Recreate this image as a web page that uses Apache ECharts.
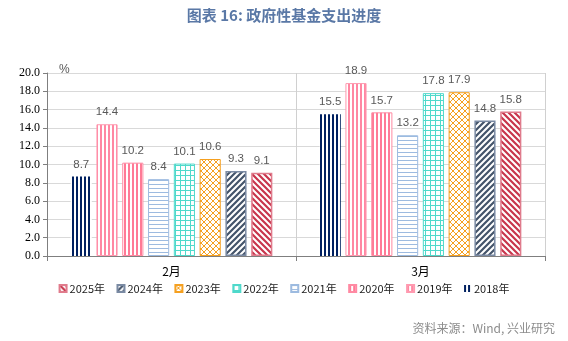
<!DOCTYPE html>
<html><head><meta charset="utf-8">
<script src="https://cdn.jsdelivr.net/npm/echarts@6/dist/echarts.min.js"></script>
<style>html,body{margin:0;padding:0;background:#fff}#c{width:568px;height:341px}</style>
</head><body><div id="c"></div>
<script>
const categories = ['2月', '3月'];
const years = ['2018年', '2019年', '2020年', '2021年', '2022年', '2023年', '2024年', '2025年'];
const v2018 = [8.7, 15.5];
const v2019 = [14.4, 18.9];
const v2020 = [10.2, 15.7];
const v2021 = [8.4, 13.2];
const v2022 = [10.1, 17.8];
const v2023 = [10.6, 17.9];
const v2024 = [9.3, 14.8];
const v2025 = [9.1, 15.8];
const yTicks = { min: 0, max: 20, interval: 2 };
const titleText = '图表 16: 政府性基金支出进度';
const sourceText = '资料来源：Wind, 兴业研究';

function tile(w, h, draw) {
  const c = document.createElement('canvas');
  c.width = w; c.height = h;
  const ctx = c.getContext('2d');
  ctx.fillStyle = '#fff'; ctx.fillRect(0, 0, w, h);
  draw(ctx, w, h);
  return { image: c, repeat: 'repeat' };
}
const pVNavy = tile(4, 4, (x) => { x.fillStyle = '#002060'; x.fillRect(0, 0, 2, 4); });
const pVPink1 = tile(4, 4, (x) => { x.fillStyle = '#ff87a2'; x.fillRect(0, 0, 2, 4); });
const pVPink2 = tile(4, 4, (x) => { x.fillStyle = '#ff7a96'; x.fillRect(0, 0, 2, 4); });
const pHBlue = tile(4, 4, (x) => { x.fillStyle = '#9dbbe0'; x.fillRect(0, 0, 4, 1); });
const pGrid = tile(5, 5, (x) => { x.fillStyle = '#4fd9cb'; x.fillRect(0, 0, 5, 1); x.fillRect(0, 0, 1, 5); });
const pCross = tile(6, 6, (x) => {
  x.strokeStyle = '#f5a020'; x.lineWidth = 1;
  x.beginPath();
  x.moveTo(0, 0); x.lineTo(6, 6);
  x.moveTo(6, 0); x.lineTo(0, 6);
  x.stroke();
});
function diag(color, dir) {
  return tile(6, 6, (x) => {
    x.strokeStyle = color; x.lineWidth = 2.2;
    x.beginPath();
    if (dir > 0) {
      x.moveTo(-1, 7); x.lineTo(7, -1);
      x.moveTo(-4, 4); x.lineTo(4, -4);
      x.moveTo(2, 10); x.lineTo(10, 2);
    } else {
      x.moveTo(-1, -1); x.lineTo(7, 7);
      x.moveTo(-4, 2); x.lineTo(4, 10);
      x.moveTo(2, -4); x.lineTo(10, 4);
    }
    x.stroke();
  });
}
const pSlate = diag('#44546a', 1);
const pRed = diag('#c8354c', -1);

const values = [v2018, v2019, v2020, v2021, v2022, v2023, v2024, v2025];
const styles = [
  { color: pVNavy, borderWidth: 0 },
  { color: pVPink1, borderColor: '#ff9ab0', borderWidth: 1 },
  { color: pVPink2, borderColor: '#ff8aa3', borderWidth: 1 },
  { color: pHBlue, borderColor: '#9dbbe0', borderWidth: 1 },
  { color: pGrid, borderColor: '#4fd9cb', borderWidth: 1 },
  { color: pCross, borderColor: '#f5a020', borderWidth: 1 },
  { color: pSlate, borderColor: '#7a8aa3', borderWidth: 1.5 },
  { color: pRed, borderColor: '#e07b8c', borderWidth: 1.5 }
];

const series = years.map((y, i) => ({
  name: y,
  type: 'bar',
  data: values[i],
  barGap: '22%',
  barCategoryGap: '19%',
  itemStyle: styles[i],
  label: {
    show: true, position: 'top', distance: 6,
    color: '#595959', fontSize: 11.5, fontFamily: 'Liberation Sans',
    formatter: (p) => p.value.toFixed(1)
  }
}));

const chart = echarts.init(document.getElementById('c'), null, { renderer: 'canvas' });
chart.setOption({
  animation: false,
  backgroundColor: '#fff',
  title: {
    text: titleText, left: 'center', top: 3,
    textStyle: { color: '#5a78a6', fontSize: 15, fontWeight: 'bold', fontFamily: 'Noto Sans CJK SC' }
  },
  grid: { left: 47, right: 23, top: 73, bottom: 85, containLabel: false },
  legend: {
    data: years.slice().reverse(),
    bottom: 42, left: 'center',
    itemWidth: 7, itemHeight: 7, itemGap: 11.5,
    icon: 'rect',
    textStyle: { color: '#222', fontSize: 11, fontFamily: 'Noto Sans CJK SC', padding: [0, 0, 0, -2] }
  },
  xAxis: {
    type: 'category', data: categories,
    axisLine: { lineStyle: { color: '#7f7f7f', width: 1 } },
    axisTick: { show: true, length: 5, lineStyle: { color: '#7f7f7f' } },
    axisLabel: { color: '#000', fontSize: 12, margin: 9, fontFamily: 'Noto Sans CJK SC' },
    splitLine: { show: true, lineStyle: { color: '#d0d0d0', width: 1 } }
  },
  yAxis: {
    type: 'value', min: yTicks.min, max: yTicks.max, interval: yTicks.interval,
    axisLine: { show: true, lineStyle: { color: '#7f7f7f' } },
    axisTick: { show: true, length: 4, lineStyle: { color: '#7f7f7f' } },
    axisLabel: { color: '#000', fontSize: 12, margin: 7, fontFamily: 'Liberation Serif', formatter: (v) => v.toFixed(1) },
    splitLine: { show: true, lineStyle: { color: '#d9d9d9', width: 1 } }
  },
  graphic: [
    { type: 'text', left: 59, top: 64, style: { text: '%', fill: '#595959', fontSize: 12, fontFamily: 'Liberation Sans' } },
    { type: 'text', right: 13, top: 322, style: { text: sourceText, fill: '#8c8c8c', fontSize: 12, fontFamily: 'Noto Sans CJK SC' } }
  ],
  series: series
});
</script></body></html>
